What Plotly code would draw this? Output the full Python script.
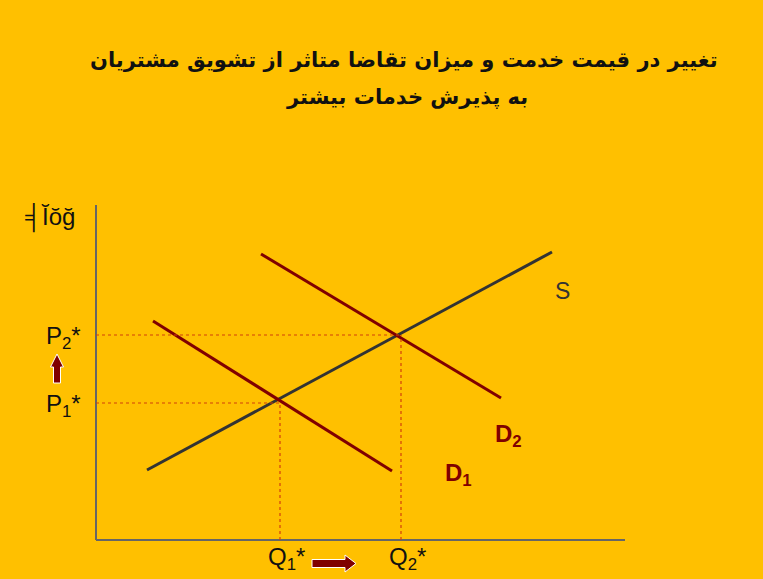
import plotly.graph_objects as go

# --- data (Q, P units; origin at the axis corner) ---
supply_q = [5.1, 45.6]
supply_p = [7.0, 28.8]
d1_q = [5.7, 29.6]
d1_p = [21.9, 6.9]
d2_q = [16.5, 40.5]
d2_p = [28.6, 14.2]

eq_q = [18.4, 30.5]      # Q1*, Q2*
eq_p = [13.7, 20.5]      # P1*, P2*

x_axis_max = 52.9
y_axis_max = 33.5

TITLE_1 = "تغییر در قیمت خدمت و میزان تقاضا متاثر از تشویق مشتریان"
TITLE_2 = "به پذیرش خدمات بیشتر"
Y_LABEL = "╡Ĭŏğ"

BG = "#FFC000"
DARK_RED = "#800000"
GREY = "#333333"
DOT = "#D2400A"
FONT = "DejaVu Sans, sans-serif"
ARIAL = "Liberation Sans, Arial, sans-serif"

fig = go.Figure()

fig.add_trace(go.Scatter(x=supply_q, y=supply_p, mode="lines",
                         line=dict(color=GREY, width=3), hoverinfo="skip"))
fig.add_trace(go.Scatter(x=d1_q, y=d1_p, mode="lines",
                         line=dict(color=DARK_RED, width=3), hoverinfo="skip"))
fig.add_trace(go.Scatter(x=d2_q, y=d2_p, mode="lines",
                         line=dict(color=DARK_RED, width=3), hoverinfo="skip"))

shapes = []
# axes
shapes.append(dict(type="line", x0=0, y0=0, x1=0, y1=y_axis_max,
                   line=dict(color="#666666", width=2)))
shapes.append(dict(type="line", x0=0, y0=0, x1=x_axis_max, y1=0,
                   line=dict(color="#666666", width=2)))
# dotted guides to the equilibria
for q, p in zip(eq_q, eq_p):
    shapes.append(dict(type="line", x0=0, y0=p, x1=q, y1=p,
                       line=dict(color=DOT, width=1.2, dash="dot")))
    shapes.append(dict(type="line", x0=q, y0=0, x1=q, y1=p,
                       line=dict(color=DOT, width=1.2, dash="dot")))

# block arrows (up between P labels, right between Q labels)
shapes.append(dict(type="path",
                   path="M -4.25 15.7 L -4.25 17.3 L -4.55 17.3 L -3.9 18.6 "
                        "L -3.25 17.3 L -3.55 17.3 L -3.55 15.7 Z",
                   fillcolor=DARK_RED, line=dict(color="white", width=1)))
shapes.append(dict(type="path",
                   path="M 21.6 -1.95 L 24.9 -1.95 L 24.9 -1.5 L 26.0 -2.35 "
                        "L 24.9 -3.2 L 24.9 -2.75 L 21.6 -2.75 Z",
                   fillcolor=DARK_RED, line=dict(color="white", width=1)))

annotations = [
    dict(x=30.8, y=48.0, text=f"<b>{TITLE_1}</b>", showarrow=False,
         font=dict(size=21, color="#111111", family=FONT)),
    dict(x=31.1, y=44.3, text=f"<b>{TITLE_2}</b>", showarrow=False,
         font=dict(size=21, color="#111111", family=FONT)),
    dict(x=-4.6, y=32.2, text=Y_LABEL, showarrow=False,
         font=dict(size=24, color="#111111", family=ARIAL)),
    dict(x=46.6, y=24.9, text="S", showarrow=False,
         font=dict(size=23, color=GREY, family=ARIAL)),
    dict(x=41.2, y=10.5, text="<b>D<sub>2</sub></b>", showarrow=False,
         font=dict(size=24, color=DARK_RED, family=ARIAL)),
    dict(x=36.2, y=6.6, text="<b>D<sub>1</sub></b>", showarrow=False,
         font=dict(size=24, color=DARK_RED, family=ARIAL)),
]
for i, (q, p) in enumerate(zip(eq_q, eq_p), start=1):
    annotations.append(dict(x=-3.3, y=p - 0.2, text=f"P<sub>{i}</sub>*",
                            showarrow=False,
                            font=dict(size=24, color="#111111", family=ARIAL)))
    annotations.append(dict(x=q + 0.6, y=-1.8, text=f"Q<sub>{i}</sub>*",
                            showarrow=False,
                            font=dict(size=24, color="#111111", family=ARIAL)))

fig.update_layout(
    width=763, height=579,
    margin=dict(l=0, r=0, t=0, b=0),
    paper_bgcolor=BG, plot_bgcolor=BG,
    showlegend=False,
    shapes=shapes,
    annotations=annotations,
    xaxis=dict(range=[-9.6, 66.7], visible=False, fixedrange=True),
    yaxis=dict(range=[-3.9, 54.0], visible=False, fixedrange=True),
)

fig.write_html("out.html", config={"displayModeBar": False},
               post_script="document.body.style.margin='0px';")
